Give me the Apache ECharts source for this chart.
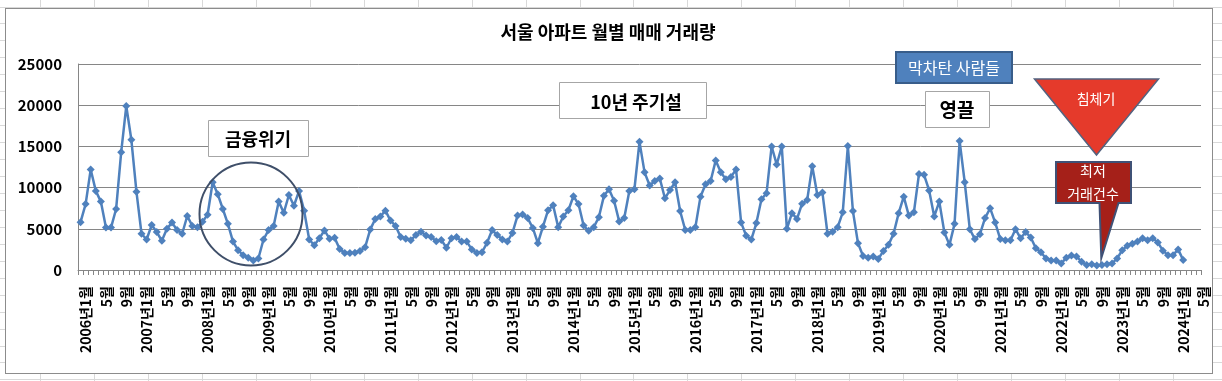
<!DOCTYPE html>
<html>
<head>
<meta charset="utf-8">
<script src="https://cdn.jsdelivr.net/npm/echarts@6/dist/echarts.min.js"></script>
<style>
  html, body { margin: 0; padding: 0; background: #ffffff; }
  #sheet { position: absolute; left: 0; top: 0; width: 1222px; height: 381px; overflow: hidden; }
  .vl { position: absolute; top: 0; width: 1px; height: 381px; background: #d9d9d9; }
  .hl { position: absolute; left: 0; height: 1px; width: 1222px; background: #d9d9d9; }
  #box { position: absolute; left: 5px; top: 8px; width: 1206px; height: 364px; background: #ffffff; border: 1px solid #8c8c8c; }
  #chart { position: absolute; left: 0; top: 0; width: 1222px; height: 381px; }
</style>
</head>
<body>
<div id="sheet"></div>
<div id="box"></div>
<div id="chart"></div>
<script>
// ---- data (Seoul apartment monthly sales count) ----
const startYear = 2006;
const lastYear = 2024;
const lastMonthOnAxis = 5;           // axis runs to 2024-05
const v2006 = [5800, 8000, 12200, 9600, 8300, 5150, 5150, 7400, 14300, 19900, 15800, 9500];
const v2007 = [4400, 3700, 5450, 4600, 3550, 5000, 5750, 4850, 4400, 6550, 5350, 5200];
const v2008 = [5850, 6700, 10650, 9200, 7400, 5600, 3450, 2400, 1800, 1500, 1150, 1400];
const v2009 = [3700, 4850, 5350, 8300, 6950, 9100, 7800, 9600, 7200, 3700, 3000, 3850];
const v2010 = [4800, 3800, 3900, 2550, 2060, 2060, 2100, 2300, 2750, 4900, 6200, 6500];
const v2011 = [7200, 6000, 5350, 4000, 3800, 3600, 4250, 4650, 4200, 4000, 3500, 3650];
const v2012 = [2700, 3850, 4000, 3450, 3450, 2500, 2060, 2150, 3300, 4850, 4250, 3700];
const v2013 = [3450, 4500, 6600, 6750, 6300, 5100, 3250, 5250, 7250, 7850, 5200, 6500];
const v2014 = [7250, 8950, 8000, 5400, 4750, 5200, 6400, 9000, 9800, 8400, 5900, 6300];
const v2015 = [9600, 9800, 15550, 11850, 10250, 10800, 11100, 8700, 9700, 10650, 7150, 4850];
const v2016 = [4850, 5200, 8900, 10400, 10800, 13300, 11850, 11000, 11300, 12200, 5750, 4150];
const v2017 = [3700, 5700, 8600, 9300, 15000, 12800, 15000, 5000, 6900, 6200, 8050, 8500];
const v2018 = [12600, 9100, 9400, 4400, 4650, 5200, 7000, 15050, 7150, 3250, 1700, 1500];
const v2019 = [1650, 1350, 2300, 3050, 4400, 6900, 8900, 6600, 7000, 11650, 11550, 9650];
const v2020 = [6500, 8300, 4550, 3050, 5600, 15650, 10650, 4950, 3750, 4350, 6300, 7500];
const v2021 = [5750, 3750, 3600, 3600, 4950, 3850, 4600, 3950, 2650, 2150, 1400, 1150];
const v2022 = [1150, 800, 1500, 1750, 1650, 1000, 600, 700, 550, 600, 700, 800];
const v2023 = [1400, 2400, 2950, 3200, 3450, 3850, 3600, 3850, 3350, 2350, 1800, 1800];
const v2024 = [2500, 1200];
const yTicks = [0, 5000, 10000, 15000, 20000, 25000];

const title = '서울 아파트 월별 매매 거래량';
const notes = {
  crisis: '금융위기',
  cycle: '10년 주기설',
  last: '막차탄 사람들',
  young: '영끌',
  slump: '침체기',
  low1: '최저',
  low2: '거래건수'
};

// ---- build categories & series ----
const categories = [];
for (let y = startYear; y <= lastYear; y++) {
  const mMax = (y === lastYear) ? lastMonthOnAxis : 12;
  for (let m = 1; m <= mMax; m++) {
    categories.push(m === 1 ? (y + '년' + m + '월') : (m + '월'));
  }
}
const values = [].concat(v2006, v2007, v2008, v2009, v2010, v2011, v2012, v2013, v2014,
  v2015, v2016, v2017, v2018, v2019, v2020, v2021, v2022, v2023, v2024);

// ---- spreadsheet background lines ----
const sheet = document.getElementById('sheet');
for (let k = 0; k < 23; k++) {
  const d = document.createElement('div');
  d.className = 'vl'; d.style.left = Math.round(40 + 53.95 * k) + 'px';
  sheet.appendChild(d);
}
for (let k = 0; k < 23; k++) {
  const d = document.createElement('div');
  d.className = 'hl'; d.style.top = Math.round(6.5 + 16.95 * k) + 'px';
  sheet.appendChild(d);
}

const FONT = '"Noto Sans CJK KR", "Noto Sans", sans-serif';
const chart = echarts.init(document.getElementById('chart'), null, { renderer: 'canvas' });

const boxStyle = { fill: '#ffffff', stroke: '#a6a6a6', lineWidth: 1 };

chart.setOption({
  backgroundColor: 'transparent',
  animation: false,
  grid: { left: 78, right: 21, top: 64, bottom: 111, containLabel: false },
  xAxis: {
    type: 'category',
    data: categories,
    boundaryGap: true,
    axisLine: { lineStyle: { color: '#868686', width: 1 } },
    axisTick: { show: true, interval: 0, length: 5, lineStyle: { color: '#868686' } },
    axisLabel: {
      interval: 3,
      rotate: 90,
      margin: 16,
      fontFamily: FONT,
      fontSize: 14,
      fontWeight: 'bold',
      color: '#000000',
      verticalAlign: 'top',
      lineHeight: 11
    },
    splitLine: { show: false }
  },
  yAxis: {
    type: 'value',
    min: yTicks[0],
    max: yTicks[yTicks.length - 1],
    interval: 5000,
    axisLine: { show: true, lineStyle: { color: '#868686', width: 1 } },
    axisTick: { show: false },
    axisLabel: {
      margin: 16,
      fontFamily: FONT,
      fontSize: 15,
      fontWeight: 'bold',
      color: '#000000',
      formatter: function (v) { return String(v); }
    },
    splitLine: { show: true, lineStyle: { color: '#868686', width: 1 } }
  },
  series: [{
    type: 'line',
    data: values,
    symbol: 'diamond',
    symbolSize: 8,
    showAllSymbol: true,
    lineStyle: { color: '#4f81bd', width: 2.5 },
    itemStyle: { color: '#4f81bd' },
    z: 3
  }],
  graphic: {
    elements: [
      { type: 'text', z: 20, style: { x: 608, y: 32, text: title, fill: '#000', font: 'bold 18px ' + FONT, textAlign: 'center', textVerticalAlign: 'middle' } },
      // 금융위기 circle
      { type: 'circle', z: 20, shape: { cx: 251, cy: 214, r: 51.5 }, style: { fill: 'none', stroke: '#3f4f69', lineWidth: 2 } },
      { type: 'rect', z: 20, shape: { x: 208.5, y: 120.5, width: 100, height: 36 }, style: boxStyle },
      { type: 'text', z: 21, style: { x: 258, y: 139, text: notes.crisis, fill: '#000', font: 'bold 18px ' + FONT, textAlign: 'center', textVerticalAlign: 'middle' } },
      // 10년 주기설
      { type: 'rect', z: 20, shape: { x: 559.5, y: 82.5, width: 147, height: 36 }, style: boxStyle },
      { type: 'text', z: 21, style: { x: 636, y: 102, text: notes.cycle, fill: '#000', font: 'bold 18px ' + FONT, textAlign: 'center', textVerticalAlign: 'middle' } },
      // 막차탄 사람들
      { type: 'rect', z: 20, shape: { x: 896, y: 52, width: 116, height: 31 }, style: { fill: '#4f81bd', stroke: '#385d8a', lineWidth: 2 } },
      { type: 'text', z: 21, style: { x: 954, y: 68, text: notes.last, fill: '#ffffff', font: '16px ' + FONT, textAlign: 'center', textVerticalAlign: 'middle' } },
      // 영끌
      { type: 'rect', z: 20, shape: { x: 925.5, y: 91.5, width: 64, height: 36 }, style: boxStyle },
      { type: 'text', z: 21, style: { x: 957, y: 110, text: notes.young, fill: '#000', font: 'bold 19px ' + FONT, textAlign: 'center', textVerticalAlign: 'middle' } },
      // 침체기 triangle
      { type: 'polygon', z: 20, shape: { points: [[1034.5, 79], [1158.5, 79], [1096.5, 155]] }, style: { fill: '#e53a2b', stroke: '#53627f', lineWidth: 1.5 } },
      { type: 'text', z: 21, style: { x: 1096, y: 99, text: notes.slump, fill: '#ffffff', font: '14px ' + FONT, textAlign: 'center', textVerticalAlign: 'middle' } },
      // 최저 거래건수 callout
      { type: 'polygon', z: 20, shape: { points: [[1056, 162], [1131, 162], [1131, 203], [1118.5, 203], [1101.3, 258], [1099.5, 203], [1056, 203]] }, style: { fill: '#a52019', stroke: '#3f5176', lineWidth: 2 } },
      { type: 'text', z: 21, style: { x: 1093, y: 171, text: notes.low1, fill: '#ffffff', font: '14px ' + FONT, textAlign: 'center', textVerticalAlign: 'middle' } },
      { type: 'text', z: 21, style: { x: 1093, y: 194, text: notes.low2, fill: '#ffffff', font: '14px ' + FONT, textAlign: 'center', textVerticalAlign: 'middle' } }
    ]
  }
});
</script>
</body>
</html>
